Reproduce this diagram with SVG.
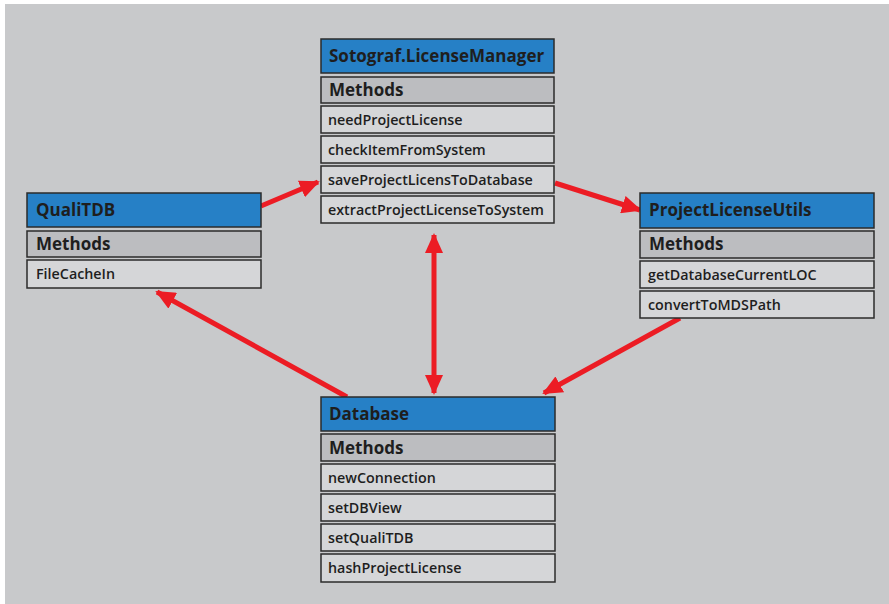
<svg xmlns="http://www.w3.org/2000/svg" width="889" height="604" viewBox="0 0 889 604">
<defs>
<style>
.hdr{fill:#2680c6;stroke:#2b2b2b;stroke-width:1.5}
.mth{fill:#bcbdc0;stroke:#2b2b2b;stroke-width:1.5}
.itm{fill:#d5d6d8;stroke:#2b2b2b;stroke-width:1.5}
.t1{font-family:"Open Sans","Liberation Sans",sans-serif;font-weight:700;font-size:17px;fill:#1e1e1e}
.t2{font-family:"Open Sans","Liberation Sans",sans-serif;font-weight:600;font-size:14.3px;fill:#1e1e1e}
.arr{stroke:#ec1c24;stroke-width:5;fill:none}
</style>
<marker id="ah" viewBox="0 0 20 18" refX="18" refY="9" markerWidth="20" markerHeight="18" markerUnits="userSpaceOnUse" orient="auto-start-reverse">
<path d="M0,0 L20,9 L0,18 Z" fill="#ec1c24"/>
</marker>
</defs>
<rect x="0" y="0" width="889" height="604" fill="#ffffff"/>
<rect x="5" y="4" width="884" height="600" fill="#c8c9cb"/>

<g id="connectors">
<line class="arr" x1="261" y1="206" x2="318" y2="182" marker-end="url(#ah)"/>
<line class="arr" x1="555" y1="183" x2="640" y2="210" marker-end="url(#ah)"/>
<line class="arr" x1="434" y1="235" x2="434" y2="393" marker-start="url(#ah)" marker-end="url(#ah)"/>
<line class="arr" x1="347" y1="397" x2="157" y2="292" marker-end="url(#ah)"/>
<line class="arr" x1="680" y1="318" x2="544" y2="393" marker-end="url(#ah)"/>
</g>

<g id="licenseManager">
<rect class="hdr" x="321" y="39" width="233" height="34"/>
<text class="t1" x="329" y="62">Sotograf.LicenseManager</text>
<rect class="mth" x="321" y="77" width="233" height="26"/>
<text class="t1" x="329" y="96">Methods</text>
<rect class="itm" x="321" y="106" width="233" height="27"/>
<text class="t2" x="328" y="125">needProjectLicense</text>
<rect class="itm" x="321" y="136" width="233" height="27"/>
<text class="t2" x="328" y="155">checkItemFromSystem</text>
<rect class="itm" x="321" y="166" width="233" height="27"/>
<text class="t2" x="328" y="185">saveProjectLicensToDatabase</text>
<rect class="itm" x="321" y="196" width="233" height="27"/>
<text class="t2" x="328" y="215">extractProjectLicenseToSystem</text>
</g>

<g id="qualiTDB">
<rect class="hdr" x="27" y="193" width="234" height="34"/>
<text class="t1" x="36" y="216">QualiTDB</text>
<rect class="mth" x="27" y="231" width="234" height="26"/>
<text class="t1" x="36" y="250">Methods</text>
<rect class="itm" x="27" y="260" width="234" height="28"/>
<text class="t2" x="36" y="279">FileCacheIn</text>
</g>

<g id="projectLicenseUtils">
<rect class="hdr" x="640" y="193" width="234" height="35"/>
<text class="t1" x="649" y="216">ProjectLicenseUtils</text>
<rect class="mth" x="640" y="231" width="234" height="27"/>
<text class="t1" x="649" y="250">Methods</text>
<rect class="itm" x="640" y="261" width="234" height="27"/>
<text class="t2" x="648" y="280">getDatabaseCurrentLOC</text>
<rect class="itm" x="640" y="291" width="234" height="27"/>
<text class="t2" x="648" y="310">convertToMDSPath</text>
</g>

<g id="database">
<rect class="hdr" x="321" y="397" width="234" height="34"/>
<text class="t1" x="329" y="420">Database</text>
<rect class="mth" x="321" y="434" width="234" height="27"/>
<text class="t1" x="329" y="454">Methods</text>
<rect class="itm" x="321" y="464" width="234" height="27"/>
<text class="t2" x="328" y="483">newConnection</text>
<rect class="itm" x="321" y="494" width="234" height="27"/>
<text class="t2" x="328" y="513">setDBView</text>
<rect class="itm" x="321" y="524" width="234" height="27"/>
<text class="t2" x="328" y="543">setQualiTDB</text>
<rect class="itm" x="321" y="554" width="234" height="28"/>
<text class="t2" x="328" y="573">hashProjectLicense</text>
</g>
</svg>
